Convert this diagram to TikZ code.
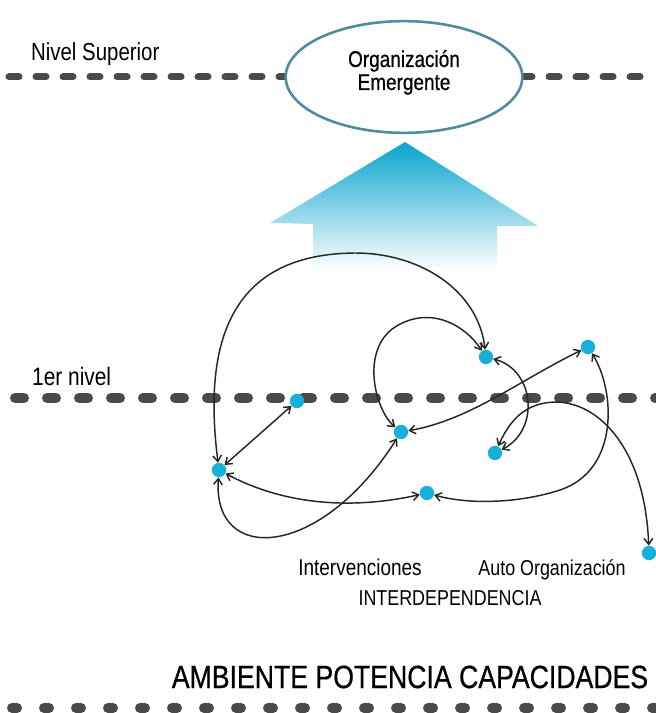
\documentclass[tikz,border=0pt]{standalone}
\usepackage{fontspec}
\setmainfont[FakeStretch=0.83]{Liberation Sans}
\newfontfamily\boldish[FakeStretch=0.83,FakeBold=0.6]{Liberation Sans}
\usetikzlibrary{arrows.meta,shapes.geometric}
\definecolor{dotcyan}{RGB}{22,176,218}
\definecolor{levelgray}{RGB}{74,74,74}
\definecolor{ringteal}{RGB}{78,140,160}
\definecolor{arrowcyan}{RGB}{8,164,206}

\begin{document}
\begin{tikzpicture}[
  x=0.03cm, y=-0.03cm,
  every node/.style={font=\fontsize{19}{21}\selectfont},
  dot/.style={circle, fill=dotcyan, inner sep=0pt, minimum size=0.43cm},
  level/.style={levelgray, line cap=round},
  link/.style={{Straight Barb[length=1.8mm,width=2.6mm]}-{Straight Barb[length=1.8mm,width=2.6mm]}, line width=1.25pt, black!85},
  emergent/.style={draw=ringteal, line width=2.2pt, fill=white, ellipse, minimum width=7.1cm, minimum height=3.35cm}
]
\useasboundingbox (0,0) rectangle (656,713);

\draw[level, line width=0.21cm, dash pattern=on 0.3cm off 0.51cm] (9,77) -- (656,77);
\draw[level, line width=0.3cm, dash pattern=on 0.27cm off 0.69cm] (15,398) -- (656,398);
\draw[level, line width=0.3cm, dash pattern=on 0.15cm off 0.81cm] (12,708) -- (656,708);

\shade[top color=arrowcyan, middle color=arrowcyan!70!white, bottom color=white]
  (405,142) -- (538,226) -- (497,226) -- (497,270) -- (313,270) -- (313,224) -- (270,223) -- cycle;

\node[emergent] (org) at (404,77) {};
\node[anchor=base, font=\boldish\fontsize{19.5}{22}\selectfont] (orgtop) at (404,67) {Organización};
\node[anchor=base, font=\boldish\fontsize{19.5}{22}\selectfont] (orgbot) at (404,90) {Emergente};

\node[anchor=base west, font=\fontsize{21}{24}\selectfont] (sup) at (27,61) {Nivel Superior};
\node[anchor=base west, font=\fontsize{21.5}{24}\selectfont] (first) at (28,385) {1er nivel};

\node[dot] (a) at (219,470) {};
\node[dot] (b) at (297,401) {};
\node[dot] (c) at (401,432) {};
\node[dot] (d) at (486,357) {};
\node[dot] (e) at (588,347) {};
\node[dot] (f) at (495,453) {};
\node[dot] (g) at (427,493) {};
\node[dot] (h) at (649,553) {};

\draw[link] (a) .. controls (203,345) and (228,254) .. (355,253) .. controls (420,253) and (478,290) .. (d);
\draw[link] (a) -- (b);
\draw[link] (a) .. controls (290,508) and (360,508) .. (g);
\draw[link] (a) .. controls (212,565) and (320,560) .. (c);
\draw[link] (c) .. controls (375,410) and (360,350) .. (395,327) .. controls (430,305) and (465,325) .. (d);
\draw[link] (e) .. controls (520,380) and (470,420) .. (c);
\draw[link] (d) .. controls (535,370) and (540,430) .. (f);
\draw[link] (f) .. controls (510,420) and (525,403) .. (555,402) .. controls (600,402) and (645,450) .. (h);
\draw[link] (e) .. controls (615,390) and (620,470) .. (560,490) .. controls (520,503) and (470,505) .. (g);

\node[anchor=base, font=\fontsize{19.5}{22}\selectfont] (interv) at (360,575) {Intervenciones};
\node[anchor=base, font=\fontsize{18.4}{22}\selectfont] (auto) at (552,575) {Auto Organización};
\node[anchor=base, font=\fontsize{18.4}{22}\selectfont] (interd) at (450,605) {INTERDEPENDENCIA};
\node[anchor=base, font=\boldish\fontsize{27.4}{30}\selectfont] (ambient) at (410,688) {AMBIENTE POTENCIA CAPACIDADES};
\end{tikzpicture}
\end{document}
